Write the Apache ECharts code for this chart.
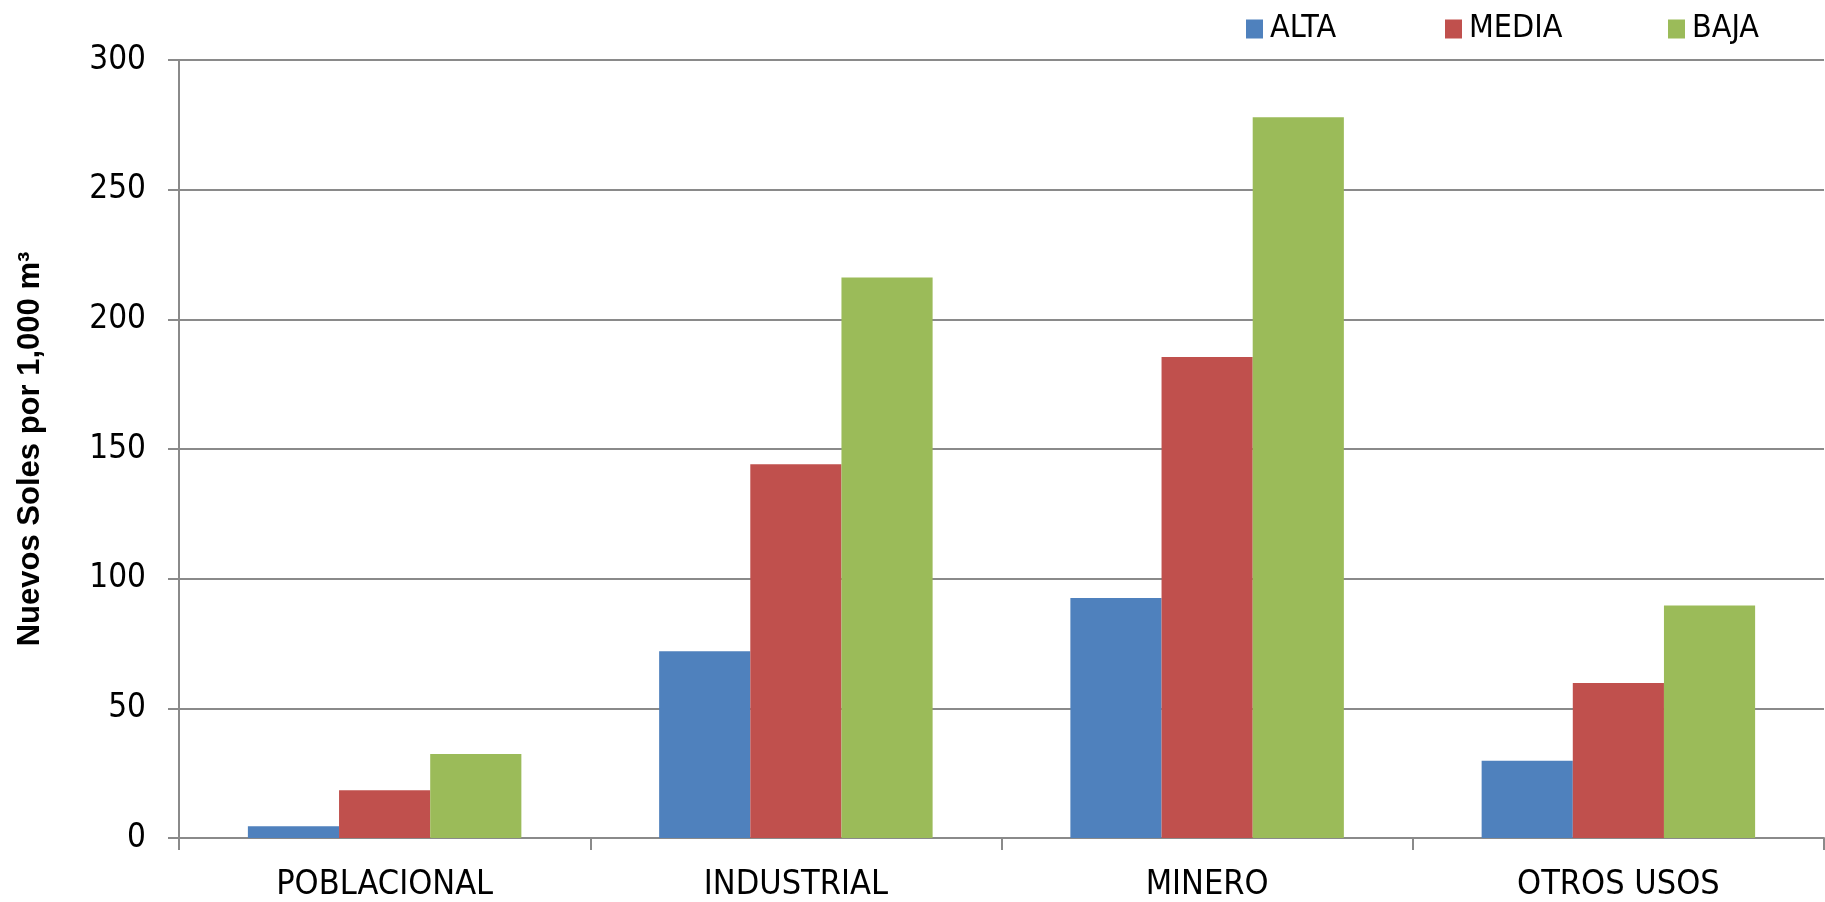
<!DOCTYPE html>
<html>
<head>
<meta charset="utf-8">
<title>Nuevos Soles por 1,000 m³</title>
<script src="https://cdn.jsdelivr.net/npm/echarts@6/dist/echarts.min.js"></script>
<style>
  html, body { margin: 0; padding: 0; background: #ffffff; }
  #chart { width: 1825px; height: 902px; }
</style>
</head>
<body>
<div id="chart"></div>
<script>
// Water tariff estimates by use and availability level
const categories = ['POBLACIONAL', 'INDUSTRIAL', 'MINERO', 'OTROS USOS'];
const seriesNames = ['ALTA', 'MEDIA', 'BAJA'];
const alta  = [4.5, 72, 92.5, 29.8];
const media = [18.4, 144.1, 185.5, 59.8];
const baja  = [32.4, 216.1, 277.9, 89.7];
const yTicks = [0, 50, 100, 150, 200, 250, 300];

const colors = ['#4F81BD', '#C0504D', '#9BBB59'];
const narrow = '"Liberation Sans Narrow", "Arial Narrow", "DejaVu Sans Condensed", sans-serif';
const axisGray = '#8a8a8a';

const chart = echarts.init(document.getElementById('chart'), null, { renderer: 'canvas' });

const legendLefts = [1241, 1440, 1663];
const legends = seriesNames.map((name, i) => ({
  data: [name],
  left: legendLefts[i],
  top: 8,
  itemWidth: 17,
  itemHeight: 19,
  itemGap: 0,
  icon: 'rect',
  textStyle: { fontFamily: narrow, fontSize: 32, color: '#000', padding: [0, 0, 0, 2] }
}));

const values = [alta, media, baja];

chart.setOption({
  animation: false,
  backgroundColor: '#ffffff',
  color: colors,
  legend: legends,
  grid: { left: 179, right: 1, top: 60, bottom: 64, containLabel: false, outerBoundsMode: 'none' },
  xAxis: {
    type: 'category',
    data: categories,
    boundaryGap: true,
    axisLine: { show: true, lineStyle: { color: axisGray, width: 2 } },
    axisTick: { show: true, length: 12, inside: false, alignWithLabel: false, lineStyle: { color: axisGray, width: 2 } },
    axisLabel: { fontFamily: narrow, fontSize: 34, color: '#000', margin: 30 },
    splitLine: { show: false }
  },
  yAxis: {
    type: 'value',
    min: yTicks[0],
    max: yTicks[yTicks.length - 1],
    interval: yTicks[1] - yTicks[0],
    name: 'Nuevos Soles por 1,000 m³',
    nameLocation: 'middle',
    nameRotate: 90,
    nameGap: 133,
    nameTextStyle: { fontFamily: '"Liberation Sans", Arial, sans-serif', fontWeight: 'bold', fontSize: 31, color: '#000' },
    axisLine: { show: true, lineStyle: { color: axisGray, width: 2 } },
    axisTick: { show: true, length: 11, inside: false, lineStyle: { color: axisGray, width: 2 } },
    axisLabel: { fontFamily: narrow, fontSize: 33, color: '#000', margin: 33 },
    splitLine: { show: true, lineStyle: { color: axisGray, width: 2 } }
  },
  series: seriesNames.map((name, i) => ({
    name: name,
    type: 'bar',
    data: values[i],
    barGap: '0%',
    barCategoryGap: '33.5%',
    itemStyle: { color: colors[i] }
  }))
});
</script>
</body>
</html>
